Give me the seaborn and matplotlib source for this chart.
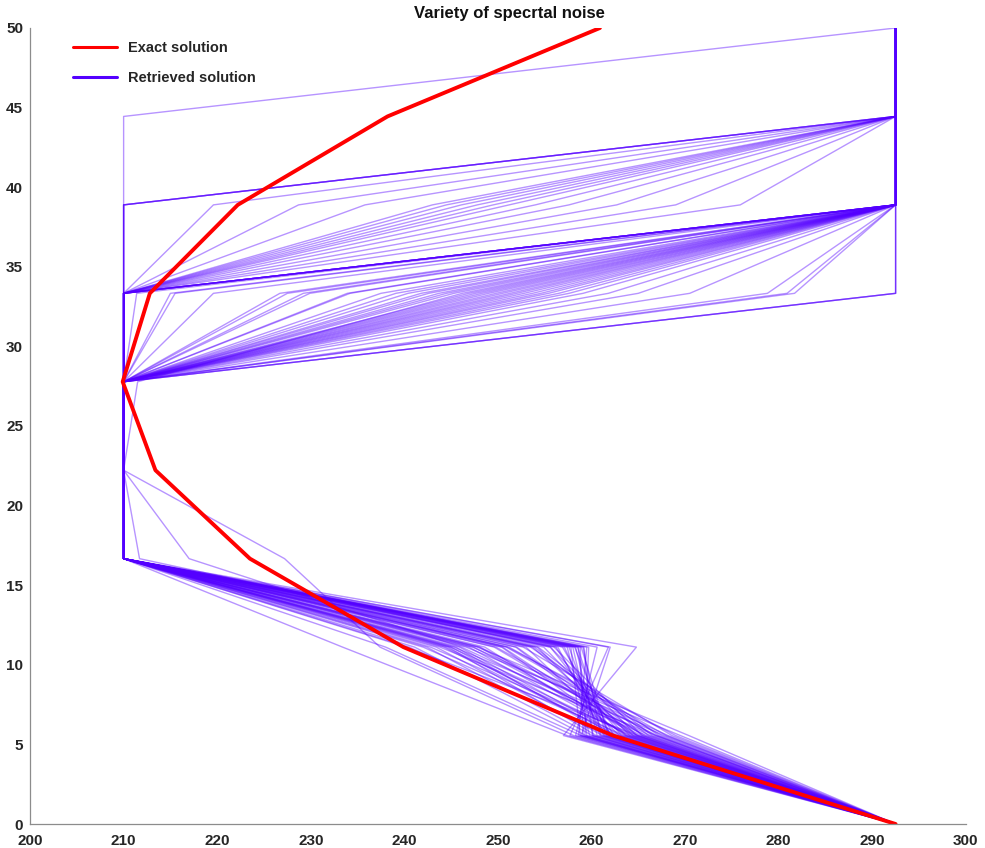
import matplotlib
matplotlib.use("Agg")
import matplotlib.pyplot as plt
from matplotlib.lines import Line2D
import numpy as np
import pandas as pd
import seaborn as sns

# Altitude grid (km)
altitude = [0.0, 5.556, 11.111, 16.667, 22.222, 27.778, 33.333, 38.889, 44.444, 50.0]

# Exact temperature profile (K)
exact_temp = [292.5, 262.3, 239.9, 223.5, 213.4, 209.9, 212.8, 222.2, 238.2, 260.9]

# Retrieved temperature profiles, one array per altitude level (K)
ret_00 = [292.5] * 70
ret_05 = [265.5, 260.2, 262.0, 261.0, 266.8, 263.5, 259.8, 268.2, 257.0, 260.5,
          263.2, 265.0, 265.0, 261.6, 264.1, 269.5, 261.2, 266.1, 258.8, 267.0,
          257.7, 264.4, 262.1, 259.4, 270.4, 258.6, 263.7, 262.8, 260.6, 265.7,
          266.3, 261.4, 258.3, 264.6, 267.2, 264.9, 259.1, 268.0, 258.9, 262.4,
          267.8, 262.0, 263.6, 264.8, 258.9, 265.9, 268.6, 260.1, 261.7, 265.4,
          264.0, 259.5, 263.0, 266.9, 257.4, 269.0, 260.9, 263.1, 261.8, 260.1,
          266.5, 263.8, 259.3, 267.5, 264.2, 261.3, 258.1, 265.3, 264.5, 262.6]
ret_11 = [252.0, 258.0, 245.5, 259.1, 249.8, 242.0, 257.4, 247.3, 264.8, 244.7,
          255.6, 250.5, 240.2, 258.5, 254.9, 246.6, 243.4, 253.9, 257.8, 248.1,
          261.8, 251.9, 256.2, 241.1, 247.8, 259.5, 254.2, 244.2, 258.3, 249.6,
          246.1, 257.1, 260.6, 242.8, 253.5, 248.0, 258.8, 251.2, 238.0, 256.9,
          245.3, 258.2, 250.4, 255.6, 262.0, 244.9, 252.7, 259.2, 240.5, 256.0,
          246.9, 258.6, 253.0, 243.8, 233.4, 251.0, 257.6, 245.9, 258.9, 242.4,
          254.3, 248.6, 259.7, 250.9, 244.4, 256.4, 237.4, 247.4, 253.7, 245.0]
ret_16 = [210.0] * 10 + [211.7] + [210.0] * 19 + [217.0] + [210.0] * 35 + [227.2] + [210.0] * 3
ret_22 = [210.0] * 70
ret_27 = [210.0] * 45 + [211.5] + [210.0] * 24
ret_33 = ([210.0] * 27 +
          [211.4, 215.0, 215.5, 219.6, 226.7, 227.5, 229.2, 229.9, 233.9, 234.2,
           237.5, 239.1, 240.4, 241.8, 242.6, 243.7, 244.5, 245.3, 246.2, 246.9,
           247.6, 248.3, 249.0, 249.8, 250.5, 251.3, 252.0, 252.8, 253.7, 254.6,
           255.4, 256.5, 257.6, 259.1, 261.8, 265.0, 270.5, 278.8, 280.9, 281.7] +
          [292.5] * 3)
ret_38 = ([292.5] * 8 + [210.0] * 5 +
          [219.6, 228.7, 235.8, 243.0, 244.5, 246.1, 247.8, 249.5, 251.2, 254.0,
           257.6, 262.7, 269.0, 275.9] +
          [292.5] * 43)
ret_44 = [292.5] * 12 + [210.0] + [292.5] * 57
ret_50 = [292.5] * 70

levels = [ret_00, ret_05, ret_11, ret_16, ret_22, ret_27, ret_33, ret_38, ret_44, ret_50]

rows = []
for k, (alt, vals) in enumerate(zip(altitude, levels)):
    for p, t in enumerate(vals):
        rows.append({"profile": p, "altitude": alt, "temperature": t, "order": k})
ret_df = pd.DataFrame(rows).sort_values(["profile", "order"])
exact_df = pd.DataFrame({"altitude": altitude, "temperature": exact_temp})

sns.set_style("white")
plt.rcParams["font.family"] = ["Liberation Sans", "DejaVu Sans"]
plt.rcParams["font.weight"] = "bold"

fig = plt.figure(figsize=(9.85, 8.48), dpi=100)
ax = fig.add_axes([0.0305, 0.0283, 0.950, 0.9387])

blue = (0.33, 0.0, 1.0)
sns.lineplot(data=ret_df, x="temperature", y="altitude", units="profile",
             estimator=None, sort=False, color=blue, alpha=0.42, lw=1.0,
             ax=ax, legend=False)
sns.lineplot(data=exact_df, x="temperature", y="altitude", sort=False,
             estimator=None, color="red", lw=2.8, ax=ax, legend=False)

ax.set_xlim(200, 300)
ax.set_ylim(0, 50)
ax.set_xticks(np.arange(200, 301, 10))
ax.set_yticks(np.arange(0, 51, 5))
ax.set_xlabel("")
ax.set_ylabel("")
for side in ("top", "right"):
    ax.spines[side].set_visible(False)
for side in ("left", "bottom"):
    ax.spines[side].set_color("#8c8c8c")
    ax.spines[side].set_linewidth(0.9)
ax.tick_params(direction="in", length=6, width=0.9, color="#8c8c8c",
               labelsize=11, labelcolor="#262626")
ax.tick_params(axis="x", pad=7)
ax.tick_params(axis="y", pad=5)
for lab in ax.get_xticklabels() + ax.get_yticklabels():
    lab.set_fontweight("bold")

ax.set_title("Variety of specrtal noise", fontsize=12, fontweight="bold",
             color="#111111", x=0.512, pad=7)

handles = [Line2D([], [], color="red", lw=2.2),
           Line2D([], [], color=blue, lw=2.2)]
leg = ax.legend(handles, ["Exact solution", "Retrieved solution"],
                loc="upper left", bbox_to_anchor=(0.032, 1.0), frameon=False,
                handlelength=3.0, handletextpad=0.75, labelspacing=1.1,
                prop={"weight": "bold", "size": 10.5})

fig.savefig("out.png", dpi=100)
